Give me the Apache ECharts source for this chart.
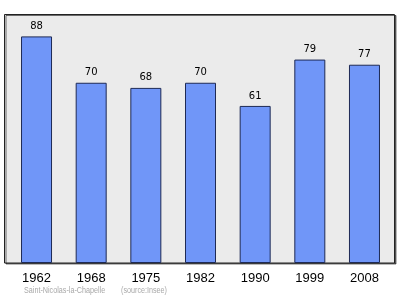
<!DOCTYPE html>
<html><head><meta charset="utf-8">
<script src="https://cdn.jsdelivr.net/npm/echarts@6/dist/echarts.min.js"></script>
<style>html,body{margin:0;padding:0;background:#fff}#c{width:400px;height:299px}</style>
</head><body><div id="c"></div>
<script>
const years = ['1962','1968','1975','1982','1990','1999','2008'];
const population = [88, 70, 68, 70, 61, 79, 77];
const placeName = 'Saint-Nicolas-la-Chapelle';
const sourceNote = '(source:Insee)';

const chart = echarts.init(document.getElementById('c'), null, {renderer:'canvas'});
chart.setOption({
  animation: false,
  graphic: [
    {type:'rect', z:0, shape:{x:4.5,y:14.5,width:390,height:248.5},
     style:{fill:'#ebebeb', stroke:'#222', lineWidth:1,
            shadowColor:'rgba(0,0,0,0.55)', shadowOffsetX:1.5, shadowOffsetY:1, shadowBlur:0}},
    {type:'text', x:24, y:286, scaleX:0.8, z:5,
     style:{text:placeName, fill:'#a8a8a8', font:'9px "Liberation Sans"'}},
    {type:'text', x:121, y:286, scaleX:0.8, z:5,
     style:{text:sourceNote, fill:'#a8a8a8', font:'9px "Liberation Sans"'}}
  ],
  grid: {left:9.2, right:8.2, top:14, bottom:36, show:false},
  xAxis: {
    type:'category', data: years, boundaryGap:true,
    axisLine:{show:false}, axisTick:{show:false},
    axisLabel:{color:'#000', fontSize:13, fontFamily:'Liberation Sans', margin:9}
  },
  yAxis: {type:'value', min:0, max:96.7, show:false, splitLine:{show:false}},
  series: [{
    type:'bar', data: population, barWidth:31, z:2,
    itemStyle:{color:'#7096f8', borderColor:'#1e2a55', borderWidth:1},
    label:{show:true, position:'top', distance:5, color:'#000', fontSize:10, fontFamily:'DejaVu Sans'}
  }]
});
</script></body></html>
